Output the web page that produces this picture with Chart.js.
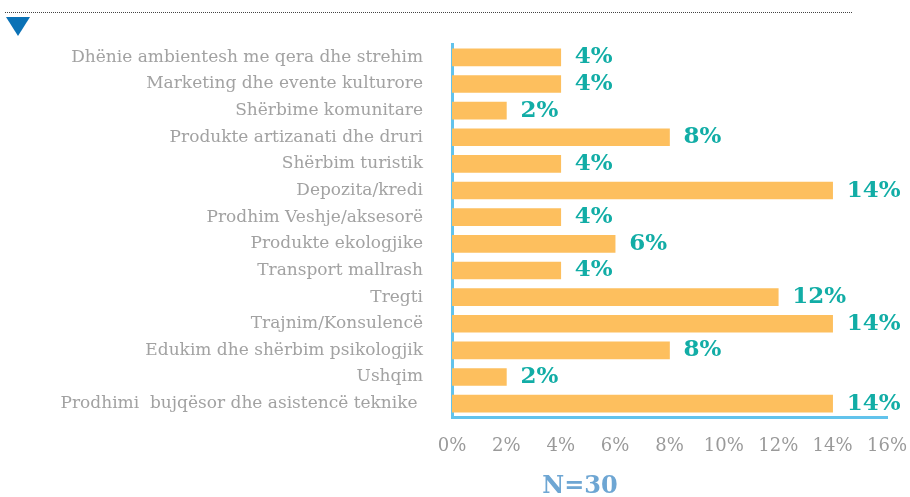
<!DOCTYPE html>
<html lang="sq">
<head>
    <meta charset="UTF-8">
    <title>N=30</title>
    <script src="https://cdn.jsdelivr.net/npm/chart.js"></script>
    <style>
        html, body { margin: 0; padding: 0; background: #fff; }
        #wrap { position: relative; width: 910px; height: 497px; }
        #dots { position: absolute; left: 5px; top: 12px; width: 847px; border-top: 1px dotted #444; }
        #tri { position: absolute; left: 6px; top: 17px; width: 0; height: 0;
               border-left: 12px solid transparent; border-right: 12px solid transparent;
               border-top: 19px solid #0b72b6; }
        #n { position: absolute; left: 480px; width: 200px; top: 470px; text-align: center;
             font-family: "DejaVu Serif", serif; font-weight: bold; font-size: 24px; color: #6ea6d3; }
    </style>
</head>
<body>
<div id="wrap">
    <canvas id="chart" width="910" height="497"></canvas>
    <div id="dots"></div>
    <div id="tri"></div>
    <div id="n">N=30</div>
</div>
<script>
    // kategoritë dhe përqindjet
    const categories = [
        "Dhënie ambientesh me qera dhe strehim",
        "Marketing dhe evente kulturore",
        "Shërbime komunitare",
        "Produkte artizanati dhe druri",
        "Shërbim turistik",
        "Depozita/kredi",
        "Prodhim Veshje/aksesorë",
        "Produkte ekologjike",
        "Transport mallrash",
        "Tregti",
        "Trajnim/Konsulencë",
        "Edukim dhe shërbim psikologjik",
        "Ushqim",
        "Prodhimi  bujqësor dhe asistencë teknike "
    ];
    const values = [4, 4, 2, 8, 4, 14, 4, 6, 4, 12, 14, 8, 2, 14];
    const xTicks = [0, 2, 4, 6, 8, 10, 12, 14, 16];

    // etiketat e vlerave pas shiritave
    const valueLabels = {
        id: "valueLabels",
        afterDatasetsDraw(chart) {
            const ctx = chart.ctx;
            const meta = chart.getDatasetMeta(0);
            ctx.save();
            ctx.font = "bold 23px 'DejaVu Serif'";
            ctx.fillStyle = "#12ada6";
            ctx.textBaseline = "middle";
            meta.data.forEach((bar, i) => {
                ctx.fillText(values[i] + "%", bar.x + 14, bar.y);
            });
            ctx.restore();
        }
    };

    new Chart(document.getElementById("chart"), {
        type: "bar",
        data: {
            labels: categories,
            datasets: [{
                data: values,
                backgroundColor: "#fdbf5e",
                barThickness: 17
            }]
        },
        options: {
            indexAxis: "y",
            responsive: false,
            animation: false,
            layout: { padding: { top: 44, right: 23, left: 0, bottom: 0 } },
            plugins: { legend: { display: false }, tooltip: { enabled: false } },
            scales: {
                x: {
                    min: 0, max: 16,
                    afterBuildTicks: (s) => { s.ticks = xTicks.map(v => ({ value: v })); },
                    afterFit: (s) => { s.height = 80; s.paddingRight = 0; s.paddingLeft = 0; },
                    grid: { display: false, drawTicks: false },
                    border: { display: true, color: "#62c3ec", width: 3 },
                    ticks: {
                        padding: 19,
                        color: "#9a9a9a",
                        font: { family: "DejaVu Serif", size: 18 },
                        callback: v => v + "%"
                    }
                },
                y: {
                    afterFit: (s) => { s.width = 452; },
                    grid: { display: false, drawTicks: false },
                    border: { display: true, color: "#62c3ec", width: 3 },
                    ticks: {
                        padding: 29,
                        color: "#a2a2a2",
                        font: { family: "DejaVu Serif", size: 17 }
                    }
                }
            }
        },
        plugins: [valueLabels]
    });
</script>
</body>
</html>
